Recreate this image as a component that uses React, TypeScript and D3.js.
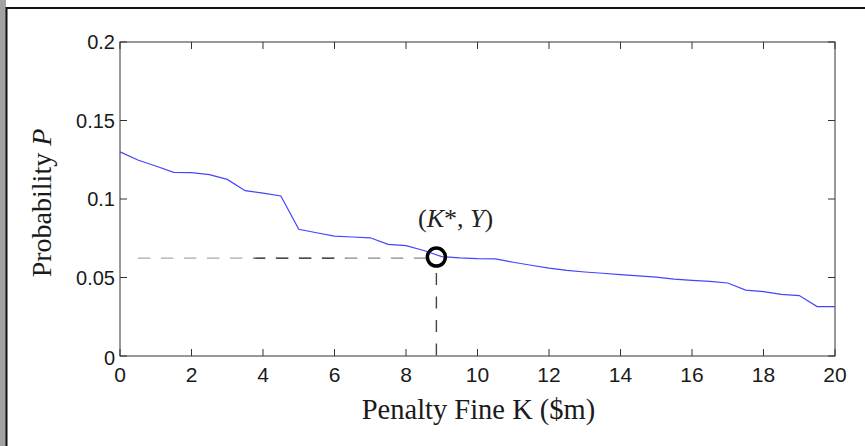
import React from "react";
import * as d3 from "d3";

// Penalty fine K ($m) sampled every 0.5
const fines = [
  0, 0.5, 1, 1.5, 2, 2.5, 3, 3.5, 4, 4.5, 5, 5.5, 6, 6.5, 7, 7.5, 8, 8.5, 9, 9.5,
  10, 10.5, 11, 11.5, 12, 12.5, 13, 13.5, 14, 14.5, 15, 15.5, 16, 16.5, 17, 17.5,
  18, 18.5, 19, 19.5, 20,
];
// Probability P at each fine
const probabilities = [
  0.130, 0.1248, 0.121, 0.117, 0.1168, 0.1155, 0.1125, 0.1053, 0.1037, 0.1019,
  0.0807, 0.0785, 0.0764, 0.0758, 0.0753, 0.0711, 0.0703, 0.0672, 0.0633, 0.0625,
  0.0620, 0.0618, 0.0597, 0.0578, 0.0560, 0.0545, 0.0535, 0.0527, 0.0518, 0.0510,
  0.0502, 0.0490, 0.0482, 0.0475, 0.0465, 0.0420, 0.0410, 0.0393, 0.0385, 0.0315,
  0.0315,
];
const xTicks = [0, 2, 4, 6, 8, 10, 12, 14, 16, 18, 20];
const yTicks = [0, 0.05, 0.1, 0.15, 0.2];
const yTickLabels = ["0", "0.05", "0.1", "0.15", "0.2"];
// Marked optimum (K*, Y)
const kStar = 8.85;
const yStar = 0.063;
const guideStart = 0.5;

const W = 865;
const H = 446;
const left = 120;
const right = 835;
const top = 42;
const bottom = 356;

export default function App() {
  const x = d3.scaleLinear().domain([0, 20]).range([left, right]);
  const y = d3.scaleLinear().domain([0, 0.2]).range([bottom, top]);
  const line = d3
    .line<number>()
    .x((_, i) => x(fines[i]))
    .y((d) => y(d));
  const tickLen = 7;
  const axisColor = "#333";
  const sans = "'Liberation Sans', Arial, sans-serif";
  const serif = "'Liberation Serif', 'Times New Roman', serif";

  return (
    <div style={{ position: "fixed", left: 0, top: 0 }}>
      <svg width={W} height={H} style={{ display: "block", background: "#fff" }}>
        <defs>
          <linearGradient id="shadow" x1="0" y1="0" x2="0" y2="1" gradientUnits="userSpaceOnUse">
            <stop offset="0" stopColor="#fff" />
            <stop offset="0.03" stopColor="#a2a2a2" />
            <stop offset="1" stopColor="#a2a2a2" />
          </linearGradient>
          <linearGradient
            id="guide"
            gradientUnits="userSpaceOnUse"
            x1={x(guideStart)}
            y1={0}
            x2={x(kStar)}
            y2={0}
          >
            <stop offset="0" stopColor="#aaa" />
            <stop offset="0.38" stopColor="#aaa" />
            <stop offset="0.4" stopColor="#111" />
            <stop offset="0.68" stopColor="#111" />
            <stop offset="0.7" stopColor="#888" />
            <stop offset="1" stopColor="#888" />
          </linearGradient>
        </defs>

        {/* page frame */}
        <rect x={0} y={0} width={6} height={H} fill="url(#shadow)" />
        <line x1={6.5} y1={7} x2={6.5} y2={H} stroke="#111" strokeWidth={2} />
        <line x1={6} y1={8} x2={W} y2={8} stroke="#111" strokeWidth={2} />

        {/* plot box */}
        <rect
          x={left}
          y={top}
          width={right - left}
          height={bottom - top}
          fill="none"
          stroke={axisColor}
          strokeWidth={1}
        />

        {/* ticks on all four sides, pointing inward */}
        {xTicks.map((t) => (
          <g key={"xt" + t}>
            <line x1={x(t)} x2={x(t)} y1={bottom} y2={bottom - tickLen} stroke={axisColor} />
            <line x1={x(t)} x2={x(t)} y1={top} y2={top + tickLen} stroke={axisColor} />
            <text
              x={x(t)}
              y={382}
              textAnchor="middle"
              fontFamily={sans}
              fontSize={21}
              fill="#1a1a1a"
            >
              {t}
            </text>
          </g>
        ))}
        {yTicks.map((t, i) => (
          <g key={"yt" + t}>
            <line x1={left} x2={left + tickLen} y1={y(t)} y2={y(t)} stroke={axisColor} />
            <line x1={right} x2={right - tickLen} y1={y(t)} y2={y(t)} stroke={axisColor} />
            <text
              x={115}
              y={y(t) + 7 + (t === 0 ? 2 : 0)}
              textAnchor="end"
              fontFamily={sans}
              fontSize={20}
              fill="#1a1a1a"
            >
              {yTickLabels[i]}
            </text>
          </g>
        ))}

        {/* data curve */}
        <path d={line(probabilities) ?? ""} fill="none" stroke="#4444ff" strokeWidth={1.2} />

        {/* guide lines to (K*, Y) */}
        <line
          x1={x(guideStart)}
          x2={x(kStar) - 9}
          y1={y(yStar) + 1}
          y2={y(yStar) + 1}
          stroke="url(#guide)"
          strokeWidth={1.4}
          strokeDasharray="12.5 10.5"
        />
        <line
          x1={x(kStar)}
          x2={x(kStar)}
          y1={y(yStar) + 16}
          y2={bottom}
          stroke="#444"
          strokeWidth={1.4}
          strokeDasharray="12 11.5"
        />
        <circle cx={x(kStar)} cy={y(yStar)} r={9} fill="none" stroke="#000" strokeWidth={3.5} />
        <text x={418} y={227} fontFamily={serif} fontSize={26} fill="#222">
          (<tspan fontStyle="italic">K</tspan>*, <tspan fontStyle="italic">Y</tspan>)
        </text>

        {/* axis titles */}
        <text
          x={(left + right) / 2 + 1}
          y={419}
          textAnchor="middle"
          fontFamily={serif}
          fontSize={28.5}
          fill="#1a1a1a"
        >
          Penalty Fine K ($m)
        </text>
        <text
          transform={`translate(51, ${(top + bottom) / 2 + 4}) rotate(-90)`}
          textAnchor="middle"
          fontFamily={serif}
          fontSize={28}
          fill="#1a1a1a"
        >
          Probability <tspan fontStyle="italic">P</tspan>
        </text>
      </svg>
    </div>
  );
}
